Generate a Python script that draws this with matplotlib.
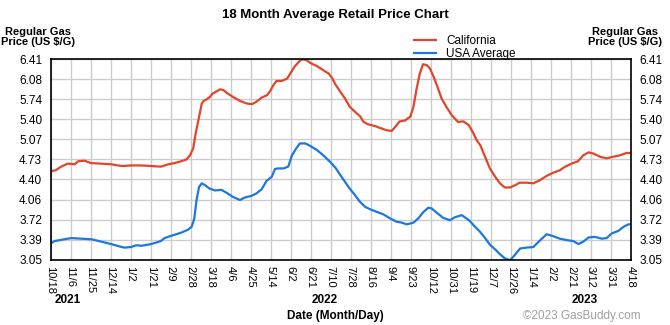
import numpy as np
import pandas as pd
import matplotlib
matplotlib.use("Agg")
import matplotlib.pyplot as plt
import matplotlib.transforms as mtransforms

plt.rcParams['font.family'] = ['Liberation Sans', 'DejaVu Sans']

# ------------------------------------------------------------
# price data (days counted from 10/18/2021, $/gallon)
start = pd.Timestamp("2021-10-18")
span_days = 547

ca_days = [0, 5, 10, 16, 23, 26, 32, 35, 38, 48, 57, 67, 76, 86, 95, 104, 111,
           117, 123, 128, 131.5, 134.5, 137, 139, 142.5, 144, 147, 150, 153,
           157, 160, 163, 166, 172, 179, 185, 190, 194, 199, 204, 207, 210,
           213, 218, 223, 226, 230, 235, 238, 241, 246, 251, 257, 262, 265,
           268.5, 273, 277.5, 282, 287, 292, 295, 299.5, 306, 312, 317, 321.5,
           325, 329, 334, 339, 342, 345, 348, 351, 354.5, 357.5, 361, 364,
           368.5, 373, 378, 384, 389, 394, 398.5, 401.5, 405, 409.5, 414, 419,
           423.5, 428, 433, 438, 442, 449, 455, 461, 467.5, 474, 480, 485, 491,
           497, 502, 507, 511.5, 518, 524, 530, 536.5, 543, 547]
ca_price = [4.53, 4.55, 4.61, 4.66, 4.65, 4.70, 4.71, 4.69, 4.67, 4.66, 4.65,
            4.62, 4.63, 4.63, 4.62, 4.61, 4.65, 4.67, 4.70, 4.73, 4.80, 4.92,
            5.19, 5.36, 5.67, 5.71, 5.74, 5.78, 5.84, 5.88, 5.91, 5.895, 5.85,
            5.78, 5.71, 5.67, 5.66, 5.70, 5.77, 5.81, 5.88, 5.98, 6.05, 6.05,
            6.09, 6.175, 6.29, 6.39, 6.415, 6.40, 6.34, 6.30, 6.23, 6.175,
            6.11, 5.99, 5.87, 5.755, 5.615, 5.53, 5.45, 5.36, 5.32, 5.29, 5.25,
            5.22, 5.21, 5.28, 5.37, 5.385, 5.45, 5.615, 5.92, 6.175, 6.33,
            6.315, 6.26, 6.12, 5.98, 5.755, 5.615, 5.475, 5.36, 5.37, 5.31,
            5.17, 5.055, 4.97, 4.775, 4.58, 4.44, 4.33, 4.26, 4.26, 4.30, 4.34,
            4.34, 4.33, 4.38, 4.455, 4.51, 4.55, 4.61, 4.66, 4.70, 4.80, 4.85,
            4.83, 4.775, 4.75, 4.775, 4.80, 4.84, 4.84]

us_days = [0, 4, 10, 19.5, 29, 38.5, 48, 57, 67, 70, 76, 81, 85.5, 95, 104,
           107.5, 114, 123, 129.5, 133, 135.5, 137.6, 140, 142.5, 145.5, 150,
           155, 161, 166, 172, 178.5, 183, 189.5, 194, 199, 203.5, 208.5,
           211.5, 214.5, 219.5, 224, 227.5, 231.5, 235, 240, 244.5, 251, 257,
           263.5, 269, 273, 277.5, 282, 287, 291.5, 296.5, 301, 307.5, 313.5,
           320, 326, 331, 335.5, 342, 346.5, 351.5, 356, 359, 364, 370, 376.5,
           381, 387.5, 392, 395.5, 399, 404.5, 409.5, 414, 419, 423.5, 428,
           433, 436, 442.5, 448.5, 455, 461.5, 467.5, 474, 480, 486.5, 492.5,
           497.5, 502, 507, 513, 519.5, 524, 529, 535, 540, 544.5, 547]
us_price = [3.32, 3.36, 3.38, 3.41, 3.40, 3.39, 3.35, 3.31, 3.26, 3.25, 3.26,
            3.29, 3.28, 3.31, 3.36, 3.41, 3.45, 3.50, 3.55, 3.60, 3.74, 4.05,
            4.27, 4.33, 4.30, 4.24, 4.21, 4.22, 4.17, 4.10, 4.05, 4.09, 4.12,
            4.16, 4.23, 4.37, 4.44, 4.57, 4.58, 4.58, 4.61, 4.80, 4.915, 5.00,
            5.00, 4.96, 4.89, 4.80, 4.69, 4.58, 4.47, 4.355, 4.24, 4.13, 4.02,
            3.935, 3.895, 3.85, 3.81, 3.74, 3.685, 3.67, 3.64, 3.67, 3.74, 3.85,
            3.92, 3.91, 3.835, 3.75, 3.71, 3.76, 3.795, 3.74, 3.69, 3.62, 3.52,
            3.41, 3.30, 3.22, 3.14, 3.07, 3.04, 3.095, 3.235, 3.25, 3.26, 3.375,
            3.475, 3.44, 3.40, 3.375, 3.36, 3.31, 3.35, 3.42, 3.43, 3.40, 3.41,
            3.49, 3.53, 3.60, 3.64, 3.645]

date_labels = ["10/18", "11/6", "11/25", "12/14", "1/2", "1/21", "2/9", "2/28",
               "3/18", "4/6", "4/25", "5/14", "6/2", "6/21", "7/10", "7/28",
               "8/16", "9/4", "9/23", "10/12", "10/31", "11/19", "12/7", "12/26",
               "1/14", "2/2", "2/21", "3/12", "3/31", "4/18"]
price_labels = ["3.05", "3.39", "3.72", "4.06", "4.40", "4.73", "5.07", "5.40",
                "5.74", "6.08", "6.41"]
years = ["2021", "2022", "2023"]
year_dates = ["2021-11-03", "2022-07-03", "2023-03-05"]

ca_dates = start + pd.to_timedelta(ca_days, unit="D")
us_dates = start + pd.to_timedelta(us_days, unit="D")
tick_dates = start + pd.to_timedelta(np.linspace(0, span_days, len(date_labels)), unit="D")
price_ticks = np.linspace(float(price_labels[0]), float(price_labels[-1]), len(price_labels))

red = "#E2452A"
blue = "#1C77E3"

# ------------------------------------------------------------
fig = plt.figure(figsize=(6.7, 3.25), dpi=100)
ax = fig.add_axes([0.0754, 0.2015, 0.8664, 0.6155])

ax.plot(ca_dates, ca_price, color=red, lw=1.6, label="California")
ax.plot(us_dates, us_price, color=blue, lw=1.6, label="USA Average")

ax.set_xlim(start, start + pd.Timedelta(days=span_days))
ax.set_ylim(price_ticks[0], price_ticks[-1])

ax.set_xticks(tick_dates)
ax.set_xticklabels(date_labels, rotation=270, fontsize=8)
ax.set_yticks(price_ticks)
ax.set_yticklabels(price_labels, fontsize=8.5)
ax.tick_params(length=0, pad=5)
ax.tick_params(axis="y", labelright=True, pad=6)
ax.grid(True, color="#CCCCCC", lw=1.0)
ax.set_axisbelow(True)
for s in ax.spines.values():
    s.set_linewidth(1.2)

# year labels under the date ticks
trans = mtransforms.blended_transform_factory(ax.transData, fig.transFigure)
for yr, d in zip(years, year_dates):
    ax.text(pd.Timestamp(d), 1 - 300 / 325, yr, transform=trans, ha="center",
            va="center", fontsize=8.5, fontweight="bold")

fig.text(0.5, 1 - 15 / 325, "18 Month Average Retail Price Chart", ha="center",
         va="center", fontsize=9.5, fontweight="bold")
for xc in (38, 625):
    fig.text(xc / 670, 1 - 37 / 325, "Regular Gas\nPrice (US $/G)", ha="center",
             va="center", fontsize=8, fontweight="bold", linespacing=1.05)
fig.text(0.5, 1 - 316 / 325, "Date (Month/Day)", ha="center", va="center",
         fontsize=8.5, fontweight="bold")
fig.text(641 / 670, 1 - 316 / 325, "\u00a92023 GasBuddy.com", ha="right",
         va="center", fontsize=8.5, color="#A0A0A0")

leg = fig.legend(loc="upper left", bbox_to_anchor=(408 / 670, 1 - 29 / 325),
                 frameon=False, fontsize=8.5, handlelength=1.9,
                 handletextpad=0.85, labelspacing=0.08, borderpad=0)

fig.savefig("out.png", dpi=100)
